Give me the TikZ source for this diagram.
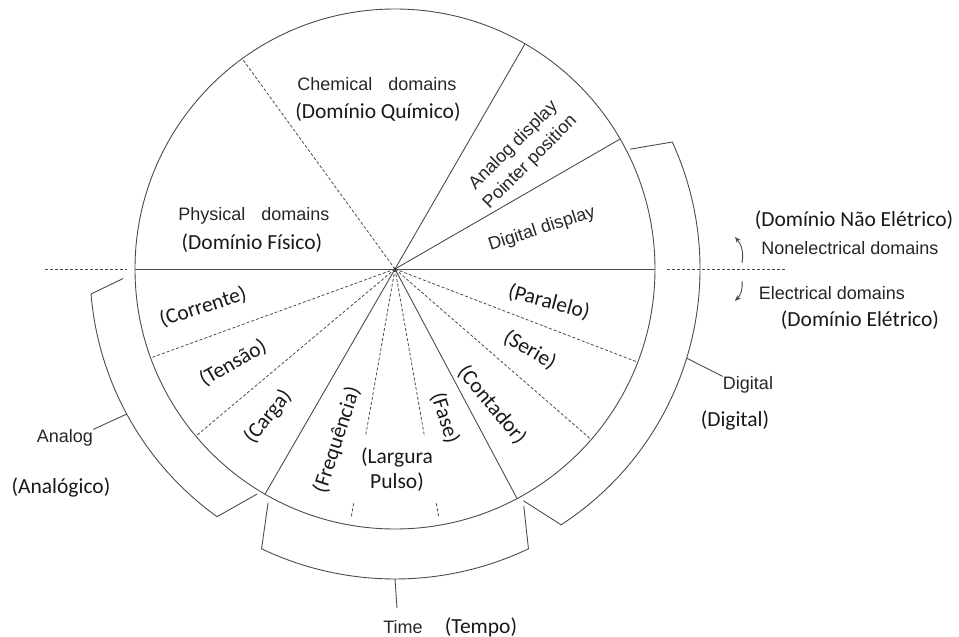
\documentclass[tikz,border=0pt]{standalone}
\usepackage{fontspec}
\setmainfont{Carlito}
\newfontfamily\arialfont{Liberation Sans}
\usetikzlibrary{arrows.meta,positioning}

\begin{document}
\begin{tikzpicture}[x=1pt, y=1pt,
  line/.style={draw=black!70, line width=0.9pt},
  dashline/.style={draw=black!70, line width=0.8pt, dash pattern=on 3pt off 2pt},
  pt/.style={font=\fontsize{21.5}{25}\selectfont, text=black!90, inner sep=0pt, align=center},
  en/.style={font=\arialfont\fontsize{18}{21}\selectfont, text=black!85, inner sep=0pt, align=center},
  tip/.style={-{Stealth[length=6pt,width=5pt]}}]
  \useasboundingbox (-395,-368) rectangle (564,269);

  % circle and radii
  \draw[line] (0,0) circle (260pt);
  \draw[line] (-260,0) -- (260,0);
  \draw[line] (0,0) -- (60:260);
  \draw[line] (0,0) -- (30:260);
  \draw[line] (0,0) -- (240:260);
  \draw[line] (0,0) -- (298:260);
  \foreach \a in {126,200,220,319,339}
    \draw[dashline] (0,0) -- (\a:260);
  \foreach \a in {260,280}{
    \draw[dashline] (0,0) -- (\a:170);
    \draw[dashline] (\a:238) -- (\a:252);
  }
  \fill[black!80] (0,0) circle (1.5pt);

  % dashed border electrical / nonelectrical
  \draw[dashline] (-350,0) -- (-268,0);
  \draw[dashline] (272,0) -- (390,0);

  % brackets
  \draw[line] (27:264) -- (24.6:305) arc[start angle=24.6, end angle=-57, radius=305pt] -- (-61:265);
  \draw[line] (182:272) -- (184.7:305) arc[start angle=184.7, end angle=234.3, radius=305pt] -- (238.5:264);
  \draw[line] (241.5:266) -- (244.5:310) arc[start angle=244.5, end angle=295.5, radius=310pt] -- (298.5:270);

  % upper half
  \node[en] (chem) at (-18,185) {Chemical\hspace{11pt} domains};
  \node[pt] (quim) at (-17,157) {(Domínio Químico)};
  \node[en] (phys) at (-141,53) {Physical\hspace{11pt} domains};
  \node[pt] (fisi) at (-143,26) {(Domínio Físico)};
  \node[en, font=\arialfont\fontsize{18}{23.5}\selectfont, rotate=45] (analogdisp) at (127,115) {Analog display\\Pointer position};
  \node[en, rotate=18] (digitaldisp) at (147,40) {Digital display};

  % lower half
  \node[pt, rotate=18] (corr) at (-192,-38) {(Corrente)};
  \node[pt, rotate=30] (tens) at (-162,-94) {(Tensão)};
  \node[pt, rotate=51] (carg) at (-127,-148) {(Carga)};
  \node[pt, rotate=72] (freq) at (-58,-171) {(Frequência)};
  \node[pt] (larg) at (2,-201) {(Largura\\Pulso)};
  \node[pt, rotate=-72] (fase) at (50,-149) {(Fase)};
  \node[pt, rotate=-50] (cont) at (97,-136) {(Contador)};
  \node[pt, rotate=-30] (seri) at (135,-81) {(Serie)};
  \node[pt, rotate=-15] (para) at (154,-33) {(Paralelo)};

  % right side labels
  \node[pt] (naoel) at (459,49) {(Domínio Não Elétrico)};
  \node[en] (nonel) at (455,21) {Nonelectrical domains};
  \node[en] (elec) at (437,-24) {Electrical domains};
  \node[pt] (eletr) at (465,-51) {(Domínio Elétrico)};
  \coordinate (upA) at (347,6);
  \coordinate (upB) at (340,32);
  \coordinate (dnA) at (347,-12);
  \coordinate (dnB) at (340,-32);
  \draw[line, tip] (upA) to[bend right=25] (upB);
  \draw[line, tip] (dnA) to[bend left=25] (dnB);

  % Digital
  \coordinate (digtap) at (-17:305);
  \node[en] (digital) at (353,-116) {Digital};
  \node[pt] (digitalpt) at (340,-151) {(Digital)};
  \draw[line] (digtap) -- (digital.north west);

  % Analog
  \coordinate (antap) at (208.4:305);
  \node[en] (analog) at (-330,-169) {Analog};
  \node[pt] (analogpt) at (-334,-218) {(Analógico)};
  \draw[line] (antap) -- (analog.north east);

  % Time
  \coordinate (timtap) at (270:310);
  \coordinate (timend) at (2,-339);
  \draw[line] (timtap) -- (timend);
  \node[en] (time) at (8,-358) {Time};
  \node[pt] (tempo) at (86,-358) {(Tempo)};
\end{tikzpicture}
\end{document}
